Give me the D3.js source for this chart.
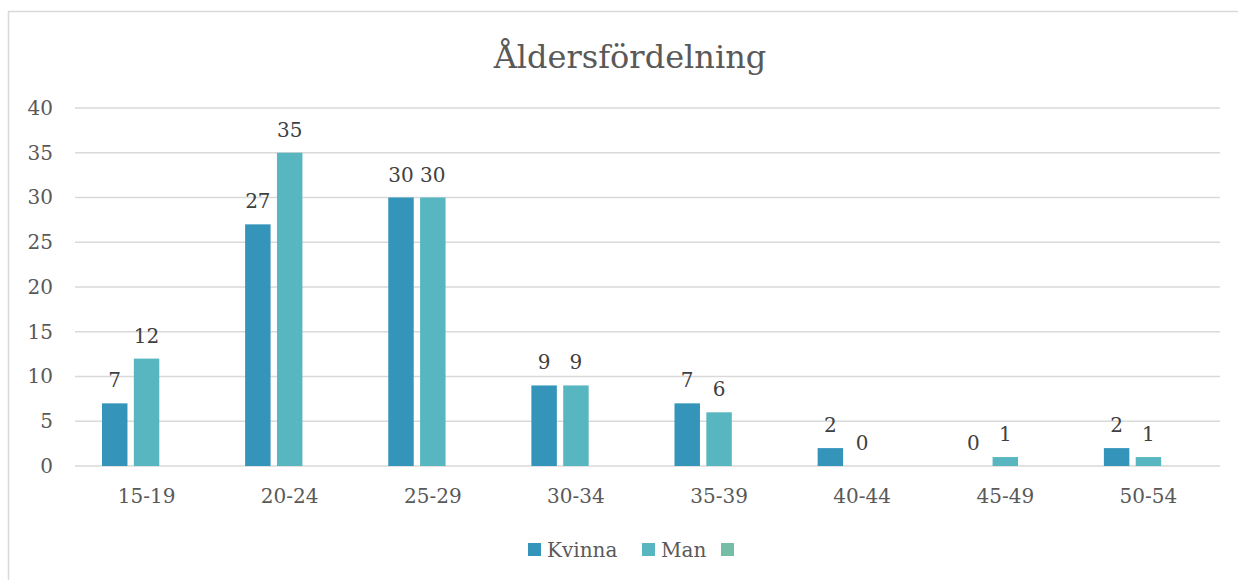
<!DOCTYPE html>
<html>
<head>
<meta charset="utf-8">
<script src="https://cdn.jsdelivr.net/npm/d3@7"></script>
<style>
  body { margin: 0; background: #fff; }
  text { font-family: "DejaVu Serif", "Liberation Serif", serif; }
</style>
</head>
<body>
<div id="chart"></div>
<script>
// chart data
var categories = ["15-19", "20-24", "25-29", "30-34", "35-39", "40-44", "45-49", "50-54"];
var seriesNames = ["Kvinna", "Man", ""];
var kvinna = [7, 27, 30, 9, 7, 2, 0, 2];
var man = [12, 35, 30, 9, 6, 0, 1, 1];
var third = [null, null, null, null, null, null, null, null];
var yTicks = [0, 5, 10, 15, 20, 25, 30, 35, 40];
var colors = ["#3494ba", "#58b6c0", "#75bda7"];

var svgWidth = 1238, svgHeight = 580;
var margin = { top: 108, right: 18, bottom: 114, left: 75 };
var width = svgWidth - margin.left - margin.right;
var height = svgHeight - margin.top - margin.bottom;

var svg = d3.select("#chart").append("svg")
  .attr("width", svgWidth)
  .attr("height", svgHeight);

// chart border (top + left visible)
svg.append("path")
  .attr("d", "M8.5,580 L8.5,11.5 L1238,11.5")
  .attr("fill", "none")
  .attr("stroke", "#d9d9d9")
  .attr("stroke-width", 1.5);

svg.append("text")
  .attr("x", 630)
  .attr("y", 68)
  .attr("text-anchor", "middle")
  .attr("fill", "#595959")
  .style("font-size", "32px")
  .text("Åldersfördelning");

var g = svg.append("g").attr("transform", `translate(${margin.left},${margin.top})`);

var x0 = d3.scaleBand().domain(categories).range([0, width]);
var groupPad = 27;
var x1 = d3.scaleBand().domain(d3.range(seriesNames.length))
  .range([groupPad, x0.bandwidth() - groupPad]).paddingInner(0.2);
var y = d3.scaleLinear().domain([0, 40]).range([height, 0]);

// gridlines
g.selectAll("line.grid").data(yTicks).enter().append("line")
  .attr("class", "grid")
  .attr("x1", 0).attr("x2", width)
  .attr("y1", d => y(d)).attr("y2", d => y(d))
  .attr("stroke", "#d9d9d9")
  .attr("stroke-width", 1.5);

// y axis labels
var yAxis = g.append("g").call(d3.axisLeft(y).tickValues(yTicks).tickSize(0).tickPadding(22));
yAxis.select(".domain").remove();
yAxis.selectAll("text").attr("fill", "#595959").style("font-size", "20px").style("font-family", "DejaVu Serif");

// x axis labels
var xAxis = g.append("g").attr("transform", `translate(0,${height})`)
  .call(d3.axisBottom(x0).tickSize(0).tickPadding(23));
xAxis.select(".domain").remove();
xAxis.selectAll("text").attr("fill", "#595959").style("font-size", "20px").style("font-family", "DejaVu Serif");

var allSeries = [kvinna, man, third];
allSeries.forEach(function (vals, si) {
  var data = categories.map((c, i) => ({ cat: c, v: vals[i] })).filter(d => d.v !== null);
  g.selectAll("rect.s" + si).data(data).enter().append("rect")
    .attr("class", "s" + si)
    .attr("x", d => x0(d.cat) + x1(si))
    .attr("y", d => y(d.v))
    .attr("width", x1.bandwidth())
    .attr("height", d => height - y(d.v))
    .attr("fill", colors[si]);
  g.selectAll("text.l" + si).data(data).enter().append("text")
    .attr("class", "l" + si)
    .attr("x", d => x0(d.cat) + x1(si) + x1.bandwidth() / 2)
    .attr("y", d => y(d.v) - 16)
    .attr("text-anchor", "middle")
    .attr("fill", "#404040")
    .style("font-size", "20px")
    .text(d => d.v);
});

// legend
var legendX = [528, 642, 721];
var legend = svg.append("g");
seriesNames.forEach(function (name, i) {
  legend.append("rect")
    .attr("x", legendX[i]).attr("y", 543)
    .attr("width", 13).attr("height", 13)
    .attr("fill", colors[i]);
  legend.append("text")
    .attr("x", legendX[i] + 19).attr("y", 557)
    .attr("fill", "#595959")
    .style("font-size", "20px")
    .text(name);
});
</script>
</body>
</html>
